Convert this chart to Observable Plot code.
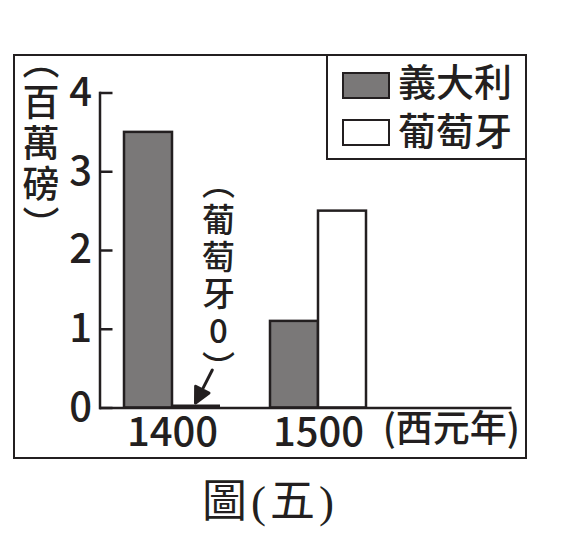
<!DOCTYPE html>
<html><head><meta charset="utf-8">
<script src="https://cdn.jsdelivr.net/npm/d3@7"></script>
<script src="https://cdn.jsdelivr.net/npm/@observablehq/plot@0.6"></script>
<style>
body{margin:0;background:#fff;}
#page{position:relative;width:568px;height:560px;font-family:"Noto Sans CJK TC",sans-serif;font-weight:500;color:#231f20;}
#box{position:absolute;left:13px;top:54px;width:514px;height:405px;border:2.5px solid #231f20;box-sizing:border-box;}
#chart svg{display:block;}
#legend{position:absolute;right:0;top:0;width:199px;height:104px;border-left:2.5px solid #231f20;border-bottom:2.5px solid #231f20;box-sizing:border-box;background:#fff;}
.sw{position:absolute;left:14px;width:48px;height:27px;border:2.5px solid #231f20;box-sizing:border-box;}
.lab{position:absolute;left:70px;font-size:38px;line-height:1;white-space:nowrap;}
#caption{position:absolute;left:13px;width:514px;top:480px;text-align:center;font-family:"Liberation Serif","Noto Sans CJK TC",serif;font-weight:400;font-size:45px;line-height:1;letter-spacing:4px;}
</style>
</head>
<body>
<div id="page">
  <div id="box"><div id="chart"></div><div id="legend"></div></div>
  <div id="caption"></div>
</div>
<script>
const years = ["1400", "1500"];
const seriesNames = ["義大利", "葡萄牙"];
const italy = [3.5, 1.1];
const portugal = [0, 2.5];
const seriesColors = ["#7a7878", "#ffffff"];
const yTicks = [0, 1, 2, 3, 4];
const yLabelChars = ["︵", "百", "萬", "磅", "︶"];
const xLabel = "(西元年)";
const noteChars = ["︵", "葡", "萄", "牙", "0", "︶"];
const noteYear = "1400";
const noteValue = 0;
const captionText = "圖(五)";

const ink = "#231f20";
const half = 48;

const rows = years.flatMap((yr, i) => [
  {year: yr, series: seriesNames[0], value: italy[i]},
  {year: yr, series: seriesNames[1], value: portugal[i]}
]);
const note = {year: noteYear, value: noteValue, text: noteChars.join("\n")};

const arrowShape = {
  draw(context, l) {
    const h = 15, w = 7.5;
    context.moveTo(0, 0);
    context.lineTo(0, -l + h);
    context.moveTo(-w, -l + h);
    context.lineTo(0, -l);
    context.lineTo(w, -l + h);
    context.closePath();
  }
};

const plot = Plot.plot({
  width: 509, height: 400,
  marginLeft: 84.5, marginRight: 12.5, marginTop: 36.5, marginBottom: 48.5,
  style: {fontFamily: '"Noto Sans CJK TC", sans-serif', fontWeight: 500, color: ink, background: "transparent", overflow: "visible"},
  x: {domain: years, range: [108.5, 350.5], paddingInner: 50 / 146, paddingOuter: 0, label: null},
  y: {domain: [0, 4], label: null},
  color: {domain: seriesNames, range: seriesColors},
  marks: [
    Plot.barY(rows.filter(d => d.series === seriesNames[0]), {x: "year", y: "value", fill: "series", stroke: ink, strokeWidth: 2.5, insetRight: half}),
    Plot.barY(rows.filter(d => d.series === seriesNames[1]), {x: "year", y: "value", fill: "series", stroke: ink, strokeWidth: 2.5, insetLeft: half}),
    Plot.tickY(rows.filter(d => d.series === seriesNames[1] && d.value === 0), {x: "year", y: "value", stroke: ink, strokeWidth: 3, insetLeft: half, dy: -2}),
    Plot.ruleY([0], {stroke: ink, strokeWidth: 2.5}),
    Plot.frame({anchor: "left", stroke: ink, strokeWidth: 2.5}),
    Plot.axisY(yTicks, {tickSize: 0, tickPadding: 8, fontSize: 40, tickFormat: d3.format("d")}),
    Plot.axisY(yTicks, {tickSize: -13, text: null, stroke: ink, strokeWidth: 2.5}),
    Plot.axisX({tickSize: 0, tickPadding: 10, fontSize: 40}),
    Plot.text([xLabel], {frameAnchor: "bottom-right", textAnchor: "end", lineAnchor: "top", dx: 8, dy: 8, fontSize: 37}),
    Plot.text([yLabelChars.join("\n")], {frameAnchor: "top-left", textAnchor: "middle", lineAnchor: "top", dx: -59, dy: -47, fontSize: 37, lineHeight: 1.11}),
    Plot.text([note], {x: "year", y: "value", text: "text", lineAnchor: "bottom", dx: 46, dy: -28, fontSize: 33, lineHeight: 1.12}),
    Plot.vector([note], {x: "year", y: "value", dx: 23, dy: -5, length: 37, rotate: 207, anchor: "end", shape: arrowShape, fill: ink, stroke: ink, strokeWidth: 3})
  ]
});
document.getElementById("chart").appendChild(plot);

const legend = document.getElementById("legend");
const swTops = [15.5, 62.5];
const labTops = [4.5, 53.5];
seriesNames.forEach((name, i) => {
  const sw = document.createElement("div");
  sw.className = "sw";
  sw.style.top = swTops[i] + "px";
  sw.style.background = seriesColors[i];
  legend.appendChild(sw);
  const lab = document.createElement("div");
  lab.className = "lab";
  lab.style.top = labTops[i] + "px";
  lab.textContent = name;
  legend.appendChild(lab);
});
document.getElementById("caption").textContent = captionText;
</script>
</body></html>
